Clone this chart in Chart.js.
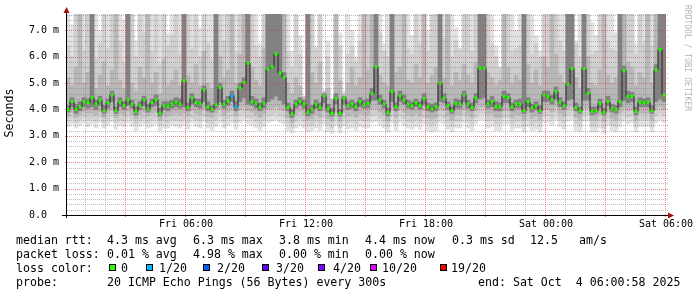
<!DOCTYPE html>
<html>
<head>
<meta charset="utf-8">
<script src="https://cdn.jsdelivr.net/npm/chart.js@4.4.1/dist/chart.umd.min.js"></script>
<style>
  html, body { margin: 0; padding: 0; background: #fff; }
  #wrap { position: relative; width: 697px; height: 297px; overflow: hidden; }
  #chart { position: absolute; left: 0; top: 0; }
  .lg { position: absolute; font: 11.6px 'DejaVu Sans Mono', monospace; line-height: 14px; white-space: pre; color: #000; }
  .box { position: absolute; width: 5px; height: 5px; border: 1px solid #000; }
</style>
</head>
<body>
<div id="wrap">
  <canvas id="chart" width="697" height="297"></canvas>
</div>
<script>
// one column every 12 minutes, first one at Fri 00:06
const STEP = 12;
const FIRST = 6;

// median rtt per column (ms)
const median = [
  4.00, 4.30, 4.00, 4.10, 4.30, 4.25, 4.45, 4.20, 4.35, 3.95,
  4.25, 4.55, 3.95, 4.28, 4.15, 4.37, 4.20, 3.93, 4.14, 4.37,
  4.01, 4.26, 4.37, 3.86, 4.15, 4.12, 4.20, 4.28, 4.20, 5.08,
  4.08, 4.43, 4.26, 4.22, 4.75, 4.10, 4.00, 4.18, 4.83, 4.20,
  4.32, 4.52, 4.10, 4.81, 5.02, 5.76, 4.30, 4.23, 4.08, 4.23,
  5.53, 5.62, 6.10, 5.38, 5.22, 4.08, 3.83, 4.20, 4.30, 4.20,
  3.89, 4.00, 4.20, 4.08, 4.52, 4.02, 3.85, 4.41, 3.85, 4.43,
  4.15, 4.20, 4.10, 4.30, 4.18, 4.23, 4.60, 5.62, 4.37, 4.20,
  3.89, 4.68, 4.10, 4.52, 4.37, 4.20, 4.15, 4.25, 4.15, 4.41,
  4.10, 4.02, 4.10, 5.00, 4.43, 4.15, 3.95, 4.23, 4.20, 4.55,
  4.20, 4.07, 4.43, 5.57, 5.57, 4.20, 4.30, 4.12, 4.10, 4.50,
  4.45, 4.10, 4.20, 4.20, 3.95, 4.30, 4.05, 4.15, 3.95, 4.55,
  4.50, 4.37, 4.68, 4.28, 4.14, 4.96, 5.55, 4.07, 3.95, 5.55,
  4.61, 3.93, 3.95, 4.23, 3.89, 4.30, 4.02, 4.00, 4.30, 5.47,
  4.50, 4.50, 3.93, 4.28, 4.25, 4.28, 3.95, 5.50, 6.27, 4.55
];

// columns with lost pings, and how many of 20
const lossAt = [41, 42];
const lossCount = [1, 1];

// smoke: spread of the 20 pings, outer to inner
const smokeMax = [
  7.8, 7.2, 7.8, 7.8, 7.8, 7.8, 7.8, 7.8, 7.0, 7.8,
  7.8, 7.8, 7.8, 7.8, 7.4, 7.8, 7.8, 6.6, 7.8, 7.8,
  7.8, 7.8, 7.8, 7.6, 7.8, 6.9, 7.8, 7.8, 7.8, 7.8,
  7.8, 7.8, 7.8, 7.1, 7.8, 7.8, 7.8, 7.8, 7.8, 7.8,
  7.8, 7.8, 7.8, 7.8, 7.8, 7.8, 7.8, 7.8, 6.5, 7.8,
  7.8, 7.8, 7.8, 7.8, 7.8, 7.8, 6.2, 7.8, 6.8, 4.5,
  7.8, 7.8, 6.4, 7.8, 4.7, 6.6, 4.4, 7.8, 6.9, 4.7,
  7.8, 7.0, 6.0, 7.8, 7.8, 7.8, 7.8, 7.8, 7.8, 6.5,
  7.8, 7.8, 7.8, 7.8, 7.8, 7.8, 6.8, 7.8, 7.8, 7.8,
  7.0, 7.8, 7.8, 7.8, 7.8, 7.8, 7.8, 7.1, 6.3, 7.8,
  7.8, 7.8, 7.8, 7.8, 7.8, 7.8, 7.8, 6.4, 5.6, 7.8,
  7.8, 7.8, 7.0, 7.8, 7.8, 7.8, 7.8, 6.8, 6.2, 7.8,
  7.8, 7.8, 7.8, 7.8, 7.8, 7.8, 7.8, 6.6, 7.8, 7.8,
  7.8, 7.3, 6.8, 7.8, 7.8, 7.8, 7.8, 6.9, 7.8, 7.8,
  7.8, 7.8, 6.5, 7.8, 7.8, 7.8, 7.8, 7.8, 7.8, 7.8
];
const smokeHi2 = [
  6.4, 6.0, 7.8, 7.8, 6.2, 7.8, 7.8, 5.9, 6.5, 7.8,
  6.3, 7.8, 7.8, 6.6, 5.8, 7.8, 7.8, 6.0, 7.8, 6.9,
  7.8, 6.2, 7.8, 5.7, 7.8, 6.4, 6.8, 7.8, 6.1, 7.8,
  7.8, 6.3, 7.8, 6.0, 7.8, 6.5, 5.9, 7.8, 7.8, 6.6,
  7.8, 7.8, 6.2, 7.8, 7.8, 7.8, 7.8, 6.4, 6.0, 7.8,
  7.8, 7.8, 7.8, 7.8, 7.8, 6.2, 5.6, 7.8, 6.1, 4.5,
  7.8, 7.8, 6.3, 7.8, 4.7, 6.0, 4.4, 7.8, 6.4, 4.6,
  6.1, 6.4, 5.8, 6.6, 7.8, 7.8, 7.8, 7.8, 6.9, 6.2,
  6.0, 7.8, 7.8, 7.8, 7.8, 6.3, 6.1, 7.8, 6.5, 7.8,
  6.2, 7.8, 7.8, 7.8, 6.7, 7.8, 6.0, 6.6, 6.3, 7.8,
  7.8, 6.2, 7.8, 7.8, 7.8, 7.8, 6.5, 6.0, 5.6, 7.8,
  7.8, 6.2, 6.3, 6.4, 7.8, 7.8, 6.1, 6.5, 6.0, 7.8,
  7.8, 7.8, 7.8, 6.6, 6.2, 7.8, 7.8, 6.5, 6.0, 7.8,
  7.8, 6.1, 6.2, 7.8, 7.8, 6.6, 6.3, 6.2, 7.8, 7.8,
  7.8, 7.8, 6.1, 7.8, 6.5, 7.8, 6.4, 7.8, 7.8, 7.8
];
const smokeHi3 = [
  5.2, 4.9, 5.6, 7.8, 5.0, 5.4, 7.8, 4.8, 5.3, 5.8,
  4.9, 5.5, 7.8, 5.1, 4.8, 7.8, 5.0, 4.7, 5.6, 5.2,
  7.8, 5.0, 5.4, 4.6, 5.9, 4.9, 5.1, 5.5, 4.9, 7.8,
  5.3, 5.0, 5.7, 4.9, 6.2, 5.0, 4.8, 7.8, 6.0, 5.2,
  5.5, 7.8, 5.0, 6.1, 7.8, 7.8, 5.6, 5.1, 4.9, 6.3,
  7.8, 7.8, 7.8, 7.8, 7.8, 5.0, 4.6, 5.2, 4.9, 4.45,
  7.8, 5.4, 5.0, 5.8, 4.65, 4.8, 4.35, 7.8, 5.1, 4.55,
  5.0, 5.6, 4.9, 5.2, 7.8, 5.5, 7.8, 7.8, 5.3, 5.0,
  4.9, 7.8, 5.4, 5.6, 7.8, 5.1, 5.0, 5.7, 5.2, 7.8,
  5.0, 5.3, 5.6, 7.8, 5.2, 7.8, 4.9, 5.4, 5.1, 5.7,
  5.3, 5.0, 5.8, 7.8, 7.8, 5.4, 5.2, 4.9, 5.1, 7.8,
  5.6, 5.0, 5.3, 5.1, 7.8, 5.7, 5.0, 5.5, 4.9, 6.0,
  5.6, 7.8, 6.1, 5.3, 5.0, 7.8, 7.8, 5.2, 4.8, 7.8,
  6.0, 5.0, 4.9, 5.5, 7.8, 5.3, 5.0, 5.2, 7.8, 7.8,
  5.8, 5.6, 4.9, 5.4, 5.2, 7.8, 5.0, 7.8, 7.8, 7.8
];
const smokeHi4 = [
  4.15, 4.45, 4.2, 4.3, 4.45, 4.4, 7.8, 4.35, 4.5, 4.15,
  4.4, 4.7, 4.1, 4.45, 4.3, 7.8, 4.35, 4.1, 4.3, 4.5,
  4.2, 4.4, 4.55, 4.05, 4.3, 4.3, 4.35, 4.45, 4.4, 7.8,
  4.25, 4.6, 4.4, 4.4, 4.9, 4.3, 4.15, 7.8, 5.0, 4.35,
  4.5, 4.7, 4.3, 5.0, 5.2, 7.8, 4.5, 4.4, 4.25, 4.45,
  7.8, 7.8, 7.8, 7.8, 5.4, 4.25, 4.0, 4.35, 4.45, 4.35,
  7.8, 4.15, 4.35, 4.25, 4.6, 4.2, 4.05, 4.6, 4.0, 4.5,
  4.3, 4.35, 4.25, 4.45, 4.35, 4.4, 4.8, 7.8, 4.55, 4.35,
  4.05, 7.8, 4.25, 4.7, 4.55, 4.35, 4.3, 4.4, 4.3, 4.6,
  4.25, 4.2, 4.25, 7.8, 4.6, 4.3, 4.1, 4.4, 4.35, 4.7,
  4.35, 4.25, 4.6, 7.8, 7.8, 4.35, 4.5, 4.3, 4.25, 4.7,
  4.6, 4.25, 4.35, 4.4, 7.8, 4.45, 4.2, 4.3, 4.15, 4.7,
  4.7, 4.55, 4.85, 4.45, 4.3, 7.8, 7.8, 4.25, 4.1, 7.8,
  4.8, 4.1, 4.1, 4.4, 4.05, 4.5, 4.2, 4.15, 7.8, 5.65,
  4.7, 4.65, 4.1, 4.45, 4.4, 4.45, 4.15, 5.7, 7.8, 7.8
];
const smokeLo4 = [
  3.9, 4.1, 3.85, 3.95, 4.1, 4.05, 4.1, 4.0, 4.15, 3.85,
  4.05, 4.3, 3.85, 4.1, 4.0, 4.15, 4.05, 3.8, 4.0, 4.15,
  3.9, 4.1, 4.15, 3.75, 4.0, 3.95, 4.05, 4.1, 4.05, 4.1,
  3.95, 4.2, 4.1, 4.05, 4.3, 3.95, 3.9, 4.05, 4.3, 4.05,
  4.15, 4.3, 3.95, 4.3, 4.45, 4.2, 4.15, 4.05, 3.95, 4.05,
  4.3, 4.4, 4.5, 4.35, 4.2, 3.95, 3.7, 4.05, 4.15, 4.05,
  3.75, 3.85, 4.05, 3.95, 4.25, 3.9, 3.75, 4.2, 3.75, 4.2,
  4.0, 4.05, 3.95, 4.1, 4.05, 4.05, 4.35, 4.35, 4.2, 4.05,
  3.75, 4.3, 3.95, 4.3, 4.2, 4.05, 4.0, 4.1, 4.0, 4.2,
  3.95, 3.9, 3.95, 4.3, 4.25, 4.0, 3.85, 4.05, 4.05, 4.3,
  4.05, 3.95, 4.25, 4.4, 4.45, 4.05, 4.1, 3.95, 3.95, 4.25,
  4.25, 3.95, 4.05, 4.05, 3.85, 4.1, 3.9, 4.0, 3.85, 4.3,
  4.3, 4.2, 4.4, 4.1, 4.0, 4.35, 4.4, 3.95, 3.85, 4.35,
  4.35, 3.8, 3.85, 4.05, 3.8, 4.15, 3.9, 3.85, 4.1, 4.35,
  4.25, 4.3, 3.8, 4.1, 4.1, 4.1, 3.85, 4.3, 4.4, 4.3
];
const smokeLo3 = [
  3.75, 3.9, 3.7, 3.8, 3.9, 3.85, 3.85, 3.8, 3.9, 3.7,
  3.85, 4.0, 3.7, 3.85, 3.8, 3.9, 3.8, 3.65, 3.8, 3.9,
  3.75, 3.85, 3.9, 3.6, 3.8, 3.75, 3.8, 3.85, 3.8, 3.85,
  3.75, 3.95, 3.85, 3.8, 4.0, 3.75, 3.7, 3.85, 4.0, 3.8,
  3.9, 4.0, 3.75, 4.0, 4.1, 3.95, 3.9, 3.8, 3.7, 3.85,
  4.0, 4.05, 4.1, 4.0, 3.95, 3.7, 3.5, 3.8, 3.9, 3.8,
  3.6, 3.65, 3.8, 3.7, 3.95, 3.65, 3.55, 3.9, 3.55, 3.9,
  3.75, 3.8, 3.7, 3.85, 3.8, 3.8, 4.0, 4.05, 3.9, 3.8,
  3.55, 4.0, 3.7, 4.0, 3.9, 3.8, 3.75, 3.85, 3.75, 3.95,
  3.7, 3.65, 3.7, 4.0, 3.95, 3.75, 3.6, 3.8, 3.8, 4.0,
  3.8, 3.7, 3.95, 4.1, 4.1, 3.8, 3.85, 3.7, 3.7, 3.95,
  3.95, 3.7, 3.8, 3.8, 3.6, 3.85, 3.65, 3.75, 3.6, 4.0,
  4.0, 3.9, 4.1, 3.85, 3.75, 4.05, 4.1, 3.7, 3.6, 4.05,
  4.05, 3.6, 3.6, 3.8, 3.55, 3.9, 3.65, 3.6, 3.85, 4.05,
  3.95, 4.0, 3.6, 3.85, 3.85, 3.85, 3.6, 4.0, 4.1, 4.0
];
const smokeLo2 = [
  3.55, 3.65, 3.5, 3.6, 3.7, 3.6, 3.65, 3.55, 3.7, 3.5,
  3.6, 3.75, 3.5, 3.6, 3.55, 3.7, 3.6, 3.45, 3.55, 3.65,
  3.5, 3.6, 3.65, 3.4, 3.55, 3.5, 3.6, 3.6, 3.55, 3.6,
  3.5, 3.7, 3.6, 3.55, 3.75, 3.5, 3.45, 3.6, 3.75, 3.55,
  3.65, 3.75, 3.5, 3.75, 3.85, 3.7, 3.65, 3.55, 3.45, 3.6,
  3.75, 3.8, 3.85, 3.75, 3.7, 3.45, 3.3, 3.55, 3.65, 3.55,
  3.4, 3.4, 3.55, 3.45, 3.7, 3.4, 3.3, 3.65, 3.3, 3.65,
  3.5, 3.55, 3.45, 3.6, 3.55, 3.55, 3.75, 3.8, 3.65, 3.55,
  3.35, 3.75, 3.45, 3.75, 3.65, 3.55, 3.5, 3.6, 3.5, 3.7,
  3.45, 3.4, 3.45, 3.75, 3.7, 3.5, 3.35, 3.55, 3.55, 3.75,
  3.55, 3.45, 3.7, 3.85, 3.85, 3.55, 3.6, 3.45, 3.45, 3.7,
  3.7, 3.45, 3.55, 3.55, 3.35, 3.6, 3.4, 3.5, 3.35, 3.75,
  3.75, 3.65, 3.85, 3.6, 3.5, 3.8, 3.85, 3.45, 3.35, 3.8,
  3.8, 3.35, 3.35, 3.55, 3.3, 3.65, 3.4, 3.35, 3.6, 3.8,
  3.7, 3.75, 3.35, 3.6, 3.6, 3.6, 3.35, 3.75, 3.85, 3.75
];
const smokeMin = [
  3.35, 3.45, 3.3, 3.4, 3.5, 3.35, 3.45, 3.3, 3.5, 3.3,
  3.4, 3.55, 3.25, 3.4, 3.35, 3.5, 3.35, 3.2, 3.35, 3.45,
  3.3, 3.35, 3.45, 3.2, 3.3, 3.3, 3.4, 3.35, 3.3, 3.4,
  3.25, 3.5, 3.35, 3.3, 3.55, 3.3, 3.2, 3.35, 3.5, 3.3,
  3.4, 3.5, 3.25, 3.5, 3.6, 3.45, 3.4, 3.3, 3.2, 3.35,
  3.5, 3.55, 3.6, 3.5, 3.45, 3.2, 3.1, 3.3, 3.4, 3.3,
  3.15, 3.2, 3.3, 3.2, 3.45, 3.15, 3.1, 3.4, 3.1, 3.4,
  3.25, 3.3, 3.2, 3.35, 3.3, 3.3, 3.5, 3.55, 3.4, 3.3,
  3.15, 3.5, 3.2, 3.5, 3.4, 3.3, 3.25, 3.35, 3.25, 3.45,
  3.2, 3.15, 3.2, 3.5, 3.45, 3.25, 3.15, 3.3, 3.3, 3.5,
  3.3, 3.2, 3.45, 3.6, 3.6, 3.3, 3.35, 3.2, 3.2, 3.45,
  3.45, 3.2, 3.3, 3.3, 3.15, 3.35, 3.2, 3.25, 3.15, 3.5,
  3.5, 3.4, 3.6, 3.35, 3.25, 3.55, 3.6, 3.2, 3.15, 3.55,
  3.55, 3.15, 3.15, 3.3, 3.1, 3.4, 3.2, 3.15, 3.35, 3.55,
  3.45, 3.5, 3.15, 3.35, 3.35, 3.35, 3.15, 3.5, 3.6, 3.5
];

const xLabels = ['Fri 06:00', 'Fri 12:00', 'Fri 18:00', 'Sat 00:00', 'Sat 06:00'];
const xLabelAt = [360, 720, 1080, 1440, 1800];
const yLabels = ['0.0', '1.0 m', '2.0 m', '3.0 m', '4.0 m', '5.0 m', '6.0 m', '7.0 m'];

const lossColors = ['#26ff00', '#00b8ff', '#0059ff', '#5e00ff', '#7e00ff', '#dd00ff', '#ff0000'];
const lossLabels = ['0', '1/20', '2/20', '3/20', '4/20', '10/20', '19/20'];

const legendRows = [
  [[16, 'median rtt:'], [107, '4.3 ms avg'], [193, '6.3 ms max'], [279, '3.8 ms min'], [365, '4.4 ms now'], [452, '0.3 ms sd'], [530, '12.5'], [579, 'am/s']],
  [[16, 'packet loss:'], [107, '0.01 % avg'], [193, '4.98 % max'], [279, '0.00 % min'], [365, '0.00 % now']],
  [[16, 'loss color:']],
  [[16, 'probe:'], [107, '20 ICMP Echo Pings (56 Bytes) every 300s'], [478, 'end: Sat Oct  4 06:00:58 2025']]
];
const legendTops = [233, 247, 261, 275];
const boxX = [109, 146, 203, 262, 318, 370, 440];
const boxTextX = [121, 159, 217, 276, 333, 382, 451];

const times = median.map((_, i) => FIRST + STEP * i);
const pointColors = median.map((_, i) => {
    const k = lossAt.indexOf(i);
    return lossColors[k < 0 ? 0 : lossCount[k]];
});

function band(lo, hi, color, order) {
    return {
        type: 'bar',
        data: times.map((t, i) => ({ x: t, y: [lo[i], hi[i]] })),
        backgroundColor: color,
        borderWidth: 0,
        grouped: false,
        barPercentage: 1,
        categoryPercentage: 1,
        order: order
    };
}

const MAJOR = 'rgba(205,60,60,0.6)';
const MINOR = 'rgba(120,120,120,0.5)';

// dotted rrdtool style grid, drawn over the smoke
const dottedGrid = {
    id: 'dottedGrid',
    afterDatasetsDraw(chart) {
        const { ctx, chartArea: a, scales: { x, y } } = chart;
        ctx.save();
        ctx.lineWidth = 1;
        ctx.setLineDash([1, 1]);
        y.ticks.forEach(t => {
            if (t.value === 0) return;
            const py = Math.round(y.getPixelForValue(t.value)) + 0.5;
            const major = Math.abs(t.value - Math.round(t.value)) < 1e-6;
            ctx.strokeStyle = major ? MAJOR : MINOR;
            ctx.beginPath();
            ctx.moveTo(a.left - (major ? 2 : 0), py);
            ctx.lineTo(a.right + 2, py);
            ctx.stroke();
        });
        x.ticks.forEach(t => {
            const px = Math.round(x.getPixelForValue(t.value)) - 0.5;
            ctx.strokeStyle = t.value % 180 === 0 ? MAJOR : MINOR;
            ctx.beginPath();
            ctx.moveTo(px, a.bottom + (t.value % 180 === 0 ? 2 : 0));
            ctx.lineTo(px, a.top);
            ctx.stroke();
        });
        ctx.restore();
    }
};

const frame = {
    id: 'frame',
    afterDraw(chart) {
        const { ctx, chartArea: a } = chart;
        ctx.save();
        ctx.strokeStyle = '#000';
        ctx.lineWidth = 1;
        ctx.beginPath();
        ctx.moveTo(a.left - 0.5, a.bottom + 3);
        ctx.lineTo(a.left - 0.5, a.top - 4);
        ctx.moveTo(a.left - 5, a.bottom + 0.5);
        ctx.lineTo(a.right + 3, a.bottom + 0.5);
        ctx.stroke();

        ctx.fillStyle = '#a01010';
        ctx.beginPath();
        ctx.moveTo(a.left - 0.5, a.top - 7);
        ctx.lineTo(a.left - 3.5, a.top - 1);
        ctx.lineTo(a.left + 2.5, a.top - 1);
        ctx.closePath();
        ctx.fill();
        ctx.beginPath();
        ctx.moveTo(a.right + 8, a.bottom + 0.5);
        ctx.lineTo(a.right + 2, a.bottom - 2.5);
        ctx.lineTo(a.right + 2, a.bottom + 3.5);
        ctx.closePath();
        ctx.fill();

        ctx.fillStyle = '#000';
        ctx.font = "11.6px 'DejaVu Sans Mono'";
        ctx.textAlign = 'center';
        ctx.textBaseline = 'middle';
        ctx.translate(10, 113);
        ctx.rotate(-Math.PI / 2);
        ctx.fillText('Seconds', 0, 0);
        ctx.restore();

        ctx.save();
        ctx.fillStyle = '#b4b4b4';
        ctx.font = "8px 'DejaVu Sans Mono'";
        ctx.textAlign = 'left';
        ctx.textBaseline = 'middle';
        ctx.translate(687, 5);
        ctx.rotate(Math.PI / 2);
        ctx.fillText('RRDTOOL / TOBI OETIKER', 0, 0);
        ctx.restore();
    }
};

Chart.defaults.font.family = "'DejaVu Sans Mono'";
Chart.defaults.color = '#000';

new Chart(document.getElementById('chart'), {
    type: 'bar',
    data: {
        datasets: [
            {
                type: 'line',
                data: times.map((t, i) => ({ x: t, y: median[i] })),
                borderColor: '#1e1e1e',
                borderWidth: 1,
                stepped: 'middle',
                pointStyle: 'rect',
                pointRadius: 2.2,
                pointBorderWidth: 0,
                pointBackgroundColor: pointColors,
                order: 0
            },
            band(smokeLo4, smokeHi4, '#828282', 1),
            band(smokeLo3, smokeHi3, '#b8b8b8', 2),
            band(smokeLo2, smokeHi2, '#d0d0d0', 3),
            band(smokeMin, smokeMax, '#e2e2e2', 4)
        ]
    },
    options: {
        responsive: false,
        animation: false,
        devicePixelRatio: 1,
        layout: { padding: { left: 29, right: 31, top: 14, bottom: 65 } },
        plugins: { legend: { display: false }, tooltip: { enabled: false } },
        scales: {
            x: {
                type: 'linear',
                min: 3,
                max: 1800,
                offset: false,
                afterBuildTicks: s => {
                    const t = [];
                    for (let m = 60; m <= 1800; m += 60) t.push({ value: m });
                    s.ticks = t;
                },
                afterFit: s => { s.height = 17; },
                ticks: {
                    autoSkip: false,
                    maxRotation: 0,
                    padding: 3,
                    font: { size: 10 },
                    callback: v => {
                        const k = xLabelAt.indexOf(v);
                        return k < 0 ? '' : xLabels[k];
                    }
                },
                grid: { display: false, drawTicks: false, offset: false },
                border: { display: false }
            },
            y: {
                min: 0,
                max: 7.62,
                afterBuildTicks: s => {
                    const t = [];
                    for (let k = 0; k <= 38; k++) t.push({ value: k / 5 });
                    s.ticks = t;
                },
                afterFit: s => { s.width = 38; },
                ticks: {
                    autoSkip: false,
                    crossAlign: 'far',
                    font: { size: 10 },
                    callback: v => {
                        const r = Math.round(v);
                        return Math.abs(v - r) < 1e-6 ? yLabels[r] : '';
                    }
                },
                grid: { display: false, drawTicks: false },
                border: { display: false }
            }
        }
    },
    plugins: [dottedGrid, frame]
});

// legend lines under the graph
const wrap = document.getElementById('wrap');
legendRows.forEach((row, r) => {
    row.forEach(([x, text]) => {
        const d = document.createElement('div');
        d.className = 'lg';
        d.style.left = x + 'px';
        d.style.top = legendTops[r] + 'px';
        d.textContent = text;
        wrap.appendChild(d);
    });
});
lossLabels.forEach((label, i) => {
    const b = document.createElement('div');
    b.className = 'box';
    b.style.left = boxX[i] + 'px';
    b.style.top = '264px';
    b.style.background = lossColors[i];
    wrap.appendChild(b);
    const d = document.createElement('div');
    d.className = 'lg';
    d.style.left = boxTextX[i] + 'px';
    d.style.top = legendTops[2] + 'px';
    d.textContent = label;
    wrap.appendChild(d);
});
</script>
</body>
</html>
